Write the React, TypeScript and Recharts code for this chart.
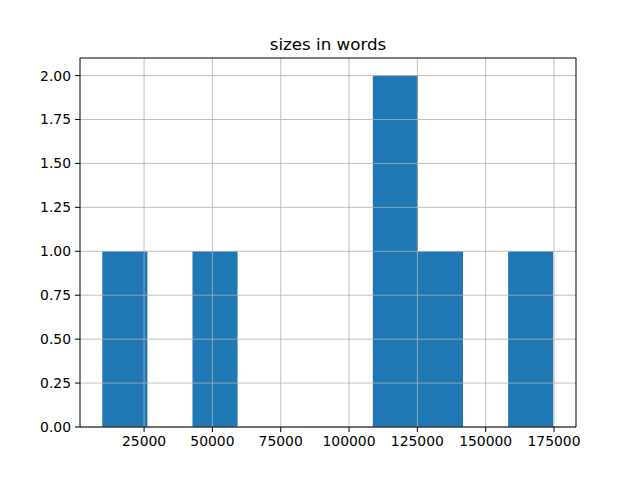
import { BarChart, Bar, XAxis, YAxis, ReferenceLine } from 'recharts';

// histogram bins (centers), counts and bin width
const binCenters = [18050, 34550, 51050, 67550, 84050, 100550, 117050, 133550, 150050, 166550];
const counts = [1, 0, 1, 0, 0, 0, 2, 1, 0, 1];
const binWidth = 16500;

const xTicks = [25000, 50000, 75000, 100000, 125000, 150000, 175000];
const yTicks = [0, 0.25, 0.5, 0.75, 1, 1.25, 1.5, 1.75, 2];
const xDomain: [number, number] = [1550, 183050];
const yDomain: [number, number] = [0, 2.1];

const data = binCenters.map((c, i) => ({ x: c, count: counts[i] }));

const W = 640;
const H = 480;
const margin = { top: 58, right: 64, left: 0, bottom: 0 };
const yAxisWidth = 80;
const xAxisHeight = 53;
const plotWidth = W - margin.right - yAxisWidth;
const barSize = (binWidth / (xDomain[1] - xDomain[0])) * plotWidth;

const font = "'DejaVu Sans', sans-serif";
const tickStyle = { fill: '#000', fontSize: 13.9, fontFamily: font };

// recharts narrows bars on a number axis; re-centre each one at full bin width
function BinBar(props: any) {
  const { x, y, width, height, fill } = props;
  if (!height || height <= 0) return null;
  const cx = x + width / 2;
  return <rect x={cx - barSize / 2} y={y} width={barSize} height={height} fill={fill} />;
}

export default function App() {
  return (
    <div style={{ position: 'absolute', left: 0, top: 0, width: W, height: H, background: '#fff' }}>
      <BarChart width={W} height={H} data={data} margin={margin} barGap={0} barCategoryGap={0}>
        <XAxis
          dataKey="x"
          type="number"
          domain={xDomain}
          allowDataOverflow
          ticks={xTicks}
          height={xAxisHeight}
          tick={tickStyle}
          tickSize={5}
          tickMargin={4}
          axisLine={{ stroke: '#000' }}
          tickLine={{ stroke: '#000' }}
        />
        <YAxis
          type="number"
          domain={yDomain}
          allowDataOverflow
          ticks={yTicks}
          width={yAxisWidth}
          tick={tickStyle}
          tickFormatter={(v: number) => v.toFixed(2)}
          tickSize={5}
          tickMargin={4}
          axisLine={{ stroke: '#000' }}
          tickLine={{ stroke: '#000' }}
        />
        <Bar dataKey="count" fill="#1f77b4" barSize={barSize} shape={<BinBar />} isAnimationActive={false} />
        {yTicks.map((t) => (
          <ReferenceLine key={'h' + t} y={t} stroke="#b0b0b0" strokeWidth={0.8} />
        ))}
        {xTicks.map((t) => (
          <ReferenceLine key={'v' + t} x={t} stroke="#b0b0b0" strokeWidth={0.8} />
        ))}
        <ReferenceLine y={yDomain[1]} stroke="#000" strokeWidth={1} />
        <ReferenceLine x={xDomain[1]} stroke="#000" strokeWidth={1} />
      </BarChart>
      <svg
        width={W}
        height={H}
        style={{ position: 'absolute', left: 0, top: 0, pointerEvents: 'none' }}
      >
        <text x={328} y={50} textAnchor="middle" fontSize={16.7} fontFamily={font} fill="#000">
          sizes in words
        </text>
      </svg>
    </div>
  );
}
